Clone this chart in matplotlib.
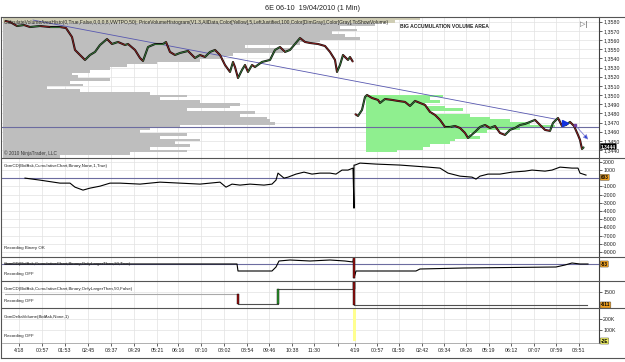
import matplotlib
matplotlib.use("Agg")
import matplotlib.pyplot as plt
from matplotlib.lines import Line2D

plt.rcParams['font.family'] = ['Liberation Sans', 'DejaVu Sans']

W, H = 625, 362

# ---- time axis (bar slots, one slot per screen column) ----
tick_pos = [19, 42, 65, 88, 111, 134, 157, 178, 201, 224, 247, 269, 292, 314, 338,
            355, 377, 399, 422, 444, 466, 489, 511, 534, 556, 579]
tick_labels = ["4/18", "00:57", "01:53", "02:45", "03:37", "04:29", "05:21", "06:16",
               "07:10", "08:02", "08:54", "09:46", "10:38", "11:30", "",
               "4/19", "00:57", "01:50", "02:42", "03:34", "04:26", "05:19", "06:12",
               "07:07", "07:59", "08:51"]

# ---- price panel ----
price_ticks = [1.3440, 1.3450, 1.3460, 1.3470, 1.3480, 1.3490, 1.3500, 1.3510,
               1.3520, 1.3530, 1.3540, 1.3550, 1.3560, 1.3570, 1.3580]

s1_bar = [5, 10, 17, 24, 30, 40, 50, 60, 66, 72, 75, 80, 85, 90, 95, 100, 107, 112, 118,
          125, 128, 135, 140, 143, 148, 155, 163, 166, 170, 175, 180, 188, 195, 200, 205,
          210, 215, 220, 225, 230, 233, 235, 238, 242, 245, 248, 252, 255, 262, 270, 275,
          280, 285, 290, 295, 300, 305, 310, 318, 325, 330, 335, 337, 340, 343, 348, 350, 353]
s1_close = [1.35808, 1.35797, 1.35753, 1.35764, 1.35742, 1.35753, 1.35742, 1.35742,
            1.35731, 1.35633, 1.35492, 1.35437, 1.35383, 1.35437, 1.35470, 1.35546,
            1.35611, 1.35557, 1.35579, 1.35546, 1.35557, 1.35492, 1.35404, 1.35372,
            1.35524, 1.35557, 1.35557, 1.35579, 1.35470, 1.35437, 1.35459, 1.35481,
            1.35404, 1.35437, 1.35415, 1.35470, 1.35492, 1.35437, 1.35328, 1.35252,
            1.35361, 1.35306, 1.35186, 1.35274, 1.35328, 1.35252, 1.35328, 1.35306,
            1.35361, 1.35383, 1.35492, 1.35524, 1.35470, 1.35492, 1.35557, 1.35622,
            1.35579, 1.35568, 1.35557, 1.35535, 1.35470, 1.35383, 1.35252, 1.35328,
            1.35437, 1.35383, 1.35415, 1.35361]

s2_bar = [355, 358, 362, 365, 367, 372, 378, 380, 385, 392, 398, 405, 410, 415, 420, 425,
          430, 435, 440, 445, 450, 455, 460, 465, 468, 475, 480, 485, 490, 495, 500, 505,
          510, 515, 520, 525, 530, 535, 540, 545, 550, 553, 558, 562, 566, 570, 574, 578,
          580, 582, 584]
s2_close = [1.34794, 1.34772, 1.34838, 1.34979, 1.35001, 1.34968, 1.34947, 1.34914,
            1.34957, 1.34947, 1.34936, 1.34925, 1.34881, 1.34936, 1.34914, 1.34892,
            1.34816, 1.34783, 1.34729, 1.34652, 1.34652, 1.34663, 1.34641, 1.34587,
            1.34532, 1.34598, 1.34652, 1.34674, 1.34641, 1.34663, 1.34587, 1.34565,
            1.34620, 1.34641, 1.34674, 1.34685, 1.34707, 1.34729, 1.34674, 1.34620,
            1.34609, 1.34696, 1.34750, 1.34663, 1.34674, 1.34707, 1.34663, 1.34565,
            1.34511, 1.34412, 1.34434]

# volume profile of 4/16 (price level -> last bar reached by the row)
prof1_level = [1.3583, 1.3580, 1.3577, 1.3574, 1.3571, 1.3568, 1.3565, 1.3562, 1.3559,
               1.3556, 1.3553, 1.3550, 1.3547, 1.3544, 1.3541, 1.3538, 1.3535, 1.3532,
               1.3529, 1.3526, 1.3523, 1.3520, 1.3517, 1.3514, 1.3511, 1.3508, 1.3505,
               1.3502, 1.3499, 1.3496, 1.3493, 1.3490, 1.3487, 1.3484, 1.3481, 1.3478,
               1.3475, 1.3472, 1.3469, 1.3466, 1.3463, 1.3460, 1.3457, 1.3454, 1.3451,
               1.3448, 1.3445, 1.3442, 1.3439, 1.3436, 1.3433]
prof1_end = [420, 395, 375, 340, 357, 332, 345, 360, 320, 300, 245, 290, 283, 233, 220,
             200, 157, 127, 110, 90, 72, 78, 110, 70, 83, 47, 80, 150, 187, 160, 200, 240,
             230, 187, 255, 240, 267, 270, 275, 180, 150, 140, 187, 160, 200, 175, 190,
             150, 187, 130, 60]

# volume profile of 4/19
prof2_level = [1.3499, 1.3496, 1.3493, 1.3490, 1.3487, 1.3484, 1.3481, 1.3478, 1.3475,
               1.3472, 1.3469, 1.3466, 1.3463, 1.3460, 1.3457, 1.3454, 1.3451, 1.3448,
               1.3445, 1.3442, 1.3439]
prof2_end = [443, 430, 440, 425, 445, 463, 430, 470, 490, 510, 530, 555, 520, 487, 470,
             480, 455, 450, 430, 423, 397]
prof2_start = 366

trend_bar = [33, 560]
trend_price = [1.35818, 1.34728]
poc_price = 1.34652
signal_bar = [565, 575, 590]
signal_price = [1.34692, 1.34674, 1.34492]
last_price = 1.3444

# ---- cumulative delta panel ----
cd_ticks = [2000, 1000, 0, -1000, -2000, -3000, -4000, -5000, -6000, -7000, -8000, -9000]
cd_bar = [25, 40, 60, 70, 75, 83, 90, 100, 110, 120, 140, 150, 160, 180, 200, 220, 226,
          232, 240, 250, 264, 272, 276, 278, 284, 288, 296, 304, 312, 320, 330, 336, 342,
          348, 353, 354, 354, 355, 360, 376, 400, 428, 440, 448, 460, 472, 476, 480, 488,
          500, 512, 525, 532, 545, 552, 560, 572, 578, 580, 586]
cd_val = [0, -244, -610, -610, -1100, -1460, -1220, -980, -610, -610, -730, -610, -490,
          -610, -730, -490, -1100, -730, -850, -730, -850, -730, -244, 610, 0, 120, 490,
          730, 490, 610, 610, 490, 980, 980, 1220, -3660, 1590, 1590, 1830, 1710, 1590,
          1340, 1220, 610, 240, 120, -120, 240, 490, 490, 730, 850, 980, 850, 980, 1340,
          1220, 1220, 610, 370]
cd_last = 100

# ---- large trades only (20, True) ----
l20_bar = [5, 237, 238, 272, 276, 279, 290, 310, 330, 345, 353, 354, 354, 356, 416, 420,
           464, 556, 565, 572, 580, 588]
l20_val = [0, 0, -350, -350, -150, 150, 200, 150, 200, 150, 100, 450, -700, -350, -350,
           -250, -200, -150, -50, 50, 0, 0]

# ---- large trades only (50, False) ----
l50_bar = [5, 238, 238, 278, 278, 354, 354, 354, 587]
l50_val = [1400, 1400, 900, 900, 1650, 1650, 2000, 850, 850]

# ---- delta volume ----
dv_bar = [354, 577]
dv_val = [330000, 4000]


def fx(x):
    return x / W


def fy(y):
    return 1 - y / H


def panel(fig, top, bottom):
    ax = fig.add_axes([fx(2), fy(bottom), fx(597), (bottom - top) / H])
    ax.set_xlim(2, 599)
    for side in ["left", "top", "bottom"]:
        ax.spines[side].set_visible(False)
    ax.spines["right"].set_color("#404040")
    ax.spines["right"].set_linewidth(0.8)
    ax.yaxis.tick_right()
    ax.tick_params(axis="y", length=2, width=0.5, labelsize=3.8, pad=1, colors="#222222")
    ax.set_xticks(tick_pos)
    ax.tick_params(axis="x", length=0, labelbottom=False)
    ax.grid(True, color="#E2E2E2", lw=0.5)
    ax.set_axisbelow(True)
    return ax


def hline(fig, y, color="#555555", lw=0.8, x0=1, x1=625):
    fig.add_artist(Line2D([fx(x0), fx(x1)], [fy(y), fy(y)], color=color, lw=lw))


def draw_candles(ax, xs, ps):
    ax.plot(xs, ps, color="#111111", lw=1.5, solid_capstyle="butt", zorder=4)
    for i in range(len(xs) - 1):
        c = "#3C8C3C" if ps[i + 1] >= ps[i] else "#A82020"
        ax.plot(xs[i:i + 2], ps[i:i + 2], color=c, lw=0.5, zorder=5)


def draw_steps(ax, xs, vs, color):
    ax.plot(xs, vs, color=color, lw=0.8, zorder=4)
    for i in range(len(xs) - 1):
        if xs[i] == xs[i + 1] and abs(vs[i + 1] - vs[i]) > 0:
            c = "#2E9A2E" if vs[i + 1] > vs[i] else "#9A1010"
            ax.bar(xs[i], vs[i + 1] - vs[i], bottom=vs[i], width=2.2, color=c,
                   edgecolor="black", lw=0.3, zorder=5)


def tag(ax, y, text, face, fg="black"):
    ax.text(1.003, y, text, transform=ax.get_yaxis_transform(), ha="left", va="center",
            fontsize=3.4, color=fg, fontweight="bold",
            bbox=dict(boxstyle="round,pad=0.12", fc=face, ec="#444444", lw=0.3), zorder=10,
            clip_on=False)


def main():
    fig = plt.figure(figsize=(W / 100, H / 100), dpi=100)
    fig.patch.set_facecolor("white")

    fig.text(0.5, fy(9), "6E 06-10  19/04/2010 (1 Min)", ha="center", va="center",
             fontsize=5.2, color="#222222")

    # price panel
    ax = panel(fig, 17, 158)
    ax.set_ylim(1.343136, 1.358513)
    ax.set_yticks(price_ticks)
    ax.set_yticklabels([f"{p:.4f}".replace(".", ",") for p in price_ticks])
    lefts = [3] * len(prof1_end)
    widths = [e - 3 for e in prof1_end]
    colors = ["#CFCDB4", "#CFCDB4"] + ["#BEBEBE"] * (len(prof1_end) - 2)
    ax.barh(prof1_level, widths, left=lefts, height=0.0003, color=colors, lw=0, zorder=2)
    ax.barh(prof2_level, [e - prof2_start for e in prof2_end], left=prof2_start,
            height=0.0003, color="#8FEF8F", lw=0, zorder=2)
    ax.axhline(poc_price, color="#6C6CA0", lw=0.8, zorder=3)
    ax.plot(trend_bar, trend_price, color="#5858B0", lw=0.6, zorder=3)
    draw_candles(ax, s1_bar, s1_close)
    draw_candles(ax, s2_bar, s2_close)
    ax.annotate("", xy=(signal_bar[2], signal_price[2]), xytext=(signal_bar[1], signal_price[1]),
                arrowprops=dict(arrowstyle="-|>", color="#8080D0", lw=0.6, mutation_scale=7,
                                fc="#1030E0"), zorder=6)
    ax.plot(signal_bar[0], signal_price[0], marker=">", color="#1030E0", ms=4, zorder=6)
    ax.plot(signal_bar[1], signal_price[1], marker="s", color="#7040A0", ms=2, zorder=6)
    tag(ax, last_price, "1,3444", "black", fg="white")
    ax.text(0.003, 0.978, "CalculateVolumeAreaHisto(0,True,False,0,0,0,8,VWTPO,50); "
            "PriceVolumeHistogram(V1.3,AllData,Color[Yellow],5,LeftJustified,100,"
            "Color[DimGray],Color[Gray],ToShowVolume)", transform=ax.transAxes,
            fontsize=3.5, va="top", ha="left", color="#222222", zorder=7)
    ax.text((400 - 2) / 597, 0.95, "BIG ACCUMULATION VOLUME AREA", transform=ax.transAxes,
            fontsize=3.6, va="top", ha="left", color="#222222", fontweight="bold", zorder=7)
    ax.text(0.003, 0.015, "\u00a9 2010 NinjaTrader, LLC", transform=ax.transAxes,
            fontsize=3.4, va="bottom", ha="left", color="#333333", zorder=7)
    ax.text(0.968, 0.975, "\u25b7|", transform=ax.transAxes, fontsize=5, va="top",
            ha="left", color="#555555", zorder=7)

    # cumulative delta
    ax = panel(fig, 158, 257)
    ax.set_ylim(-9609, 2451)
    ax.set_yticks(cd_ticks)
    ax.set_yticklabels([str(v) if v != 0 else "" for v in cd_ticks])
    ax.axhline(0, color="#6C6CA0", lw=0.8, zorder=3)
    ax.plot(cd_bar, cd_val, color="black", lw=0.8, zorder=4)
    tag(ax, cd_last, "603", "#F0A020")
    ax.text(0.003, 0.92, "GomCD(BidAsk,CumulativeChart,Binary,None,1,True)",
            transform=ax.transAxes, fontsize=3.2, va="center", color="#222222")
    ax.text(0.003, 0.09, "Recording Binary OK", transform=ax.transAxes, fontsize=3.2,
            va="center", color="#222222")

    # large trades 20
    ax = panel(fig, 257, 281)
    ax.set_ylim(-850, 350)
    ax.set_yticks([])
    ax.axhline(0, color="#6C6CA0", lw=0.8, zorder=3)
    draw_steps(ax, l20_bar, l20_val, "black")
    tag(ax, 0, "-53", "#F0A020")
    ax.text(0.003, 0.70, "GomCD(BidAsk,CumulativeChart,Binary,OnlyLargerThan,20,True)",
            transform=ax.transAxes, fontsize=3.2, va="center", color="#222222", zorder=6)
    ax.text(0.003, 0.30, "Recording OFF", transform=ax.transAxes, fontsize=3.2,
            va="center", color="#222222", zorder=6)

    # large trades 50
    ax = panel(fig, 281, 308)
    ax.set_ylim(700, 2050)
    ax.set_yticks([1500])
    ax.plot(l50_bar[:2], l50_val[:2], color="#A8A8A8", lw=0.8, zorder=4)
    draw_steps(ax, l50_bar[1:], l50_val[1:], "#505050")
    tag(ax, 850, "-611", "#F0A020")
    ax.text(0.003, 0.72, "GomCD(BidAsk,CumulativeChart,Binary,OnlyLargerThan,50,False)",
            transform=ax.transAxes, fontsize=3.2, va="center", color="#222222")
    ax.text(0.003, 0.27, "Recording OFF", transform=ax.transAxes, fontsize=3.2,
            va="center", color="#222222")

    # delta volume
    ax = panel(fig, 308, 343)
    ax.set_ylim(-18000, 300000)
    ax.set_yticks([100000, 200000])
    ax.set_yticklabels(["100K", "200K"])
    ax.bar(dv_bar[0], dv_val[0], width=3, color="#FFFF90", zorder=3)
    ax.bar(dv_bar[1], dv_val[1], width=6, color="#6060C0", zorder=3)
    tag(ax, 0, "-2E", "#F0F060")
    ax.text(0.003, 0.75, "GomDeltaVolume(BidAsk,None,1)", transform=ax.transAxes,
            fontsize=3.2, va="center", color="#222222")
    ax.text(0.003, 0.2, "Recording OFF", transform=ax.transAxes, fontsize=3.2,
            va="center", color="#222222")
    ax.tick_params(axis="x", length=2, width=0.5, labelbottom=True, labelsize=3.8, pad=1.5,
                   colors="#222222")
    ax.set_xticklabels(tick_labels)
    ax.spines["bottom"].set_visible(True)
    ax.spines["bottom"].set_color("#909090")
    ax.spines["bottom"].set_linewidth(0.5)

    # panel separators and frame
    for y in [17, 158, 257, 281, 308]:
        hline(fig, y)
    hline(fig, 358, color="#555555", lw=0.8)
    fig.add_artist(Line2D([fx(1), fx(1)], [fy(17), fy(358)], color="#555555", lw=0.8))

    fig.savefig("out.png", dpi=100)
    plt.close(fig)


if __name__ == "__main__":
    main()
